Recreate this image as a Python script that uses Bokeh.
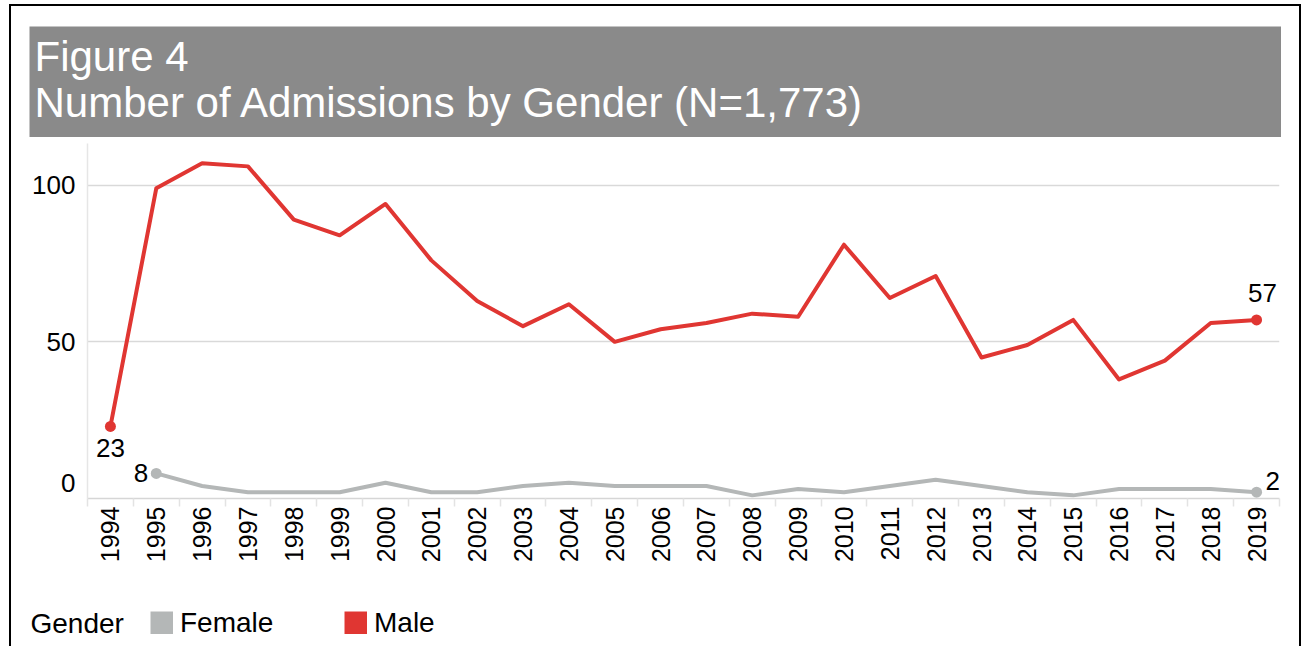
import math
from bokeh.plotting import figure
from bokeh.layouts import column, row
from bokeh.models import (ColumnDataSource, Range1d, FixedTicker, Label, Legend,
                          LegendItem)
from bokeh.core.properties import value
from bokeh.embed import file_html
from bokeh.resources import INLINE

# ---------------- data ----------------
years = list(range(1994, 2020))
year_labels = [str(y) for y in years]
male = [23, 99, 107, 106, 89, 84, 94, 76, 63, 55, 62, 50, 54, 56, 59, 58,
        81, 64, 71, 45, 49, 57, 38, 44, 56, 57]
female = [None, 8, 4, 2, 2, 2, 5, 2, 2, 4, 5, 4, 4, 4, 1, 3, 2, 4, 6, 4,
          2, 1, 3, 3, 3, 2]
series_names = ["Female", "Male"]
title_line1 = "Figure 4"
title_line2 = "Number of Admissions by Gender (N=1,773)"
legend_title = "Gender"
y_ticks = [0, 50, 100]

# ---------------- style ----------------
FONT = "Liberation Sans"
RED = "#e03632"
GRAY = "#b4b7b7"
BAR = "#8a8a8a"

female_vals = [float("nan") if v is None else v for v in female]


def blank(fig):
    fig.outline_line_color = None
    fig.xgrid.visible = False
    fig.ygrid.visible = False
    return fig


# ---------------- title bar ----------------
tfig = figure(width=1252, height=111, output_backend="svg", toolbar_location=None,
              x_range=Range1d(0, 1), y_range=Range1d(0, 1),
              x_axis_location=None, y_axis_location=None, min_border=0,
              background_fill_color=BAR, border_fill_color=BAR,
              margin=(20, 0, 0, 18))
blank(tfig)
tfig.add_layout(Label(x=5, y=81, x_units="screen", y_units="screen",
                      text=title_line1, text_font=FONT, text_font_size="42px",
                      text_color="white", text_baseline="alphabetic"))
tfig.add_layout(Label(x=5, y=35, x_units="screen", y_units="screen",
                      text=title_line2, text_font=FONT, text_font_size="42px",
                      text_color="white", text_baseline="alphabetic"))

# ---------------- main chart ----------------
p = figure(width=1288, height=453, output_backend="svg", toolbar_location=None,
           x_range=Range1d(years[0] - 0.5, years[-1] + 0.5),
           y_range=Range1d(0, 113.3),
           min_border_left=76, min_border_right=20,
           min_border_top=6, min_border_bottom=92, margin=0)
p.outline_line_color = None
p.xgrid.visible = False
p.ygrid.ticker = FixedTicker(ticks=[t for t in y_ticks if t > 0])
p.ygrid.grid_line_color = "#d9d9d9"
p.ygrid.grid_line_width = 1.5

src_m = ColumnDataSource(dict(x=years, y=male))
src_f = ColumnDataSource(dict(x=years, y=female_vals))
p.line("x", "y", source=src_f, line_color=GRAY, line_width=4, line_join="round")
p.line("x", "y", source=src_m, line_color=RED, line_width=4, line_join="round")

f_idx = [i for i, v in enumerate(female) if v is not None]
fi0, fi1 = f_idx[0], f_idx[-1]
p.scatter([years[fi0], years[fi1]], [female[fi0], female[fi1]], size=11,
          color=GRAY, line_color=None)
p.scatter([years[0], years[-1]], [male[0], male[-1]], size=11,
          color=RED, line_color=None)

lab_font = dict(text_font=value(FONT), text_font_size="26px", text_color="black",
                text_baseline="middle")
p.text([years[0]], [male[0]], text=[str(male[0])], text_align="center",
       y_offset=22, **lab_font)
p.text([years[-1]], [male[-1]], text=[str(male[-1])], text_align="center",
       x_offset=6, y_offset=-27, **lab_font)
p.text([years[fi0]], [female[fi0]], text=[str(female[fi0])], text_align="right",
       x_offset=-8, **lab_font)
p.text([years[fi1]], [female[fi1]], text=[str(female[fi1])], text_align="left",
       x_offset=9, y_offset=-11, **lab_font)

xa = p.xaxis[0]
xa.ticker = FixedTicker(ticks=years,
                        minor_ticks=[y - 0.5 for y in years] + [years[-1] + 0.5])
xa.major_label_overrides = {y: s for y, s in zip(years, year_labels)}
xa.major_label_orientation = math.pi / 2
xa.major_label_text_font = FONT
xa.major_label_text_font_size = "25px"
xa.major_label_text_color = "black"
xa.major_label_standoff = 0
xa.major_tick_line_color = None
xa.major_tick_out = 0
xa.major_tick_in = 0
xa.minor_tick_line_color = "#e3e3e3"
xa.minor_tick_line_width = 1.5
xa.minor_tick_out = 8
xa.minor_tick_in = 0
xa.axis_line_color = "#d6d6d6"
xa.axis_line_width = 1.5

ya = p.yaxis[0]
zero_pos = 4.8  # the "0" label sits a bit above the baseline, as in the reference
ya.ticker = FixedTicker(ticks=[zero_pos if t == 0 else t for t in y_ticks])
ya.major_label_overrides = {(zero_pos if t == 0 else t): str(t) for t in y_ticks}
ya.major_label_text_font = FONT
ya.major_label_text_font_size = "26px"
ya.major_label_text_color = "black"
ya.major_label_standoff = 12
ya.major_tick_line_color = None
ya.major_tick_out = 0
ya.major_tick_in = 0
ya.minor_tick_line_color = None
ya.axis_line_color = "#e6e6e6"
ya.axis_line_width = 1.5

# ---------------- legend strip ----------------
lfig = figure(width=1288, height=56, output_backend="svg", toolbar_location=None,
              x_range=Range1d(0, 1), y_range=Range1d(0, 1),
              x_axis_location=None, y_axis_location=None, min_border=0, margin=0)
blank(lfig)
# legend-only renderers (hidden; they only provide the legend swatches)
key_f = lfig.line(years, female_vals, line_color=GRAY, line_width=23,
                  line_cap="butt", visible=False)
key_m = lfig.line(years, male, line_color=RED, line_width=23,
                  line_cap="butt", visible=False)
legend = Legend(items=[LegendItem(label=series_names[0], renderers=[key_f]),
                       LegendItem(label=series_names[1], renderers=[key_m])],
                orientation="horizontal", location=(139, 7.5),
                padding=0, margin=0, spacing=0,
                glyph_width=23, glyph_height=23, label_width=164, label_height=31,
                label_standoff=7, label_text_font=FONT, label_text_font_size="28px",
                label_text_color="black", border_line_color=None,
                background_fill_alpha=0, inactive_fill_alpha=0)
lfig.add_layout(legend, "center")
lfig.add_layout(Label(x=19, y=23, x_units="screen", y_units="screen",
                      text=legend_title, text_font=FONT, text_font_size="28px",
                      text_color="black", text_baseline="middle"))

layout = column(row(tfig), p, row(lfig), spacing=0, margin=(4, 0, 0, 9),
                styles={"border-top": "2px solid black",
                        "border-left": "2px solid black",
                        "border-right": "2px solid black"})

open("out.html", "w").write(file_html(layout, INLINE))
